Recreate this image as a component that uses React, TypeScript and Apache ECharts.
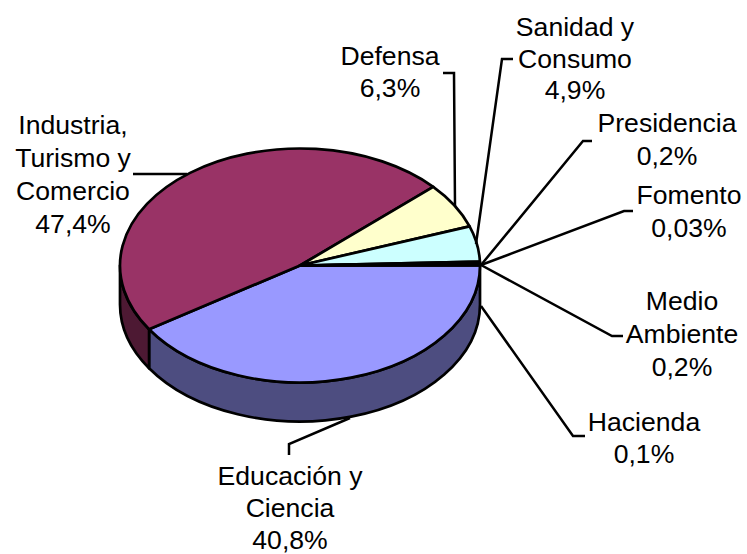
import React, { useEffect, useRef } from "react";
import * as echarts from "echarts";

const categories = ["Educación y Ciencia", "Industria, Turismo y Comercio", "Defensa", "Sanidad y Consumo", "Presidencia", "Fomento", "Medio Ambiente", "Hacienda"];
const shares = [40.8, 47.4, 6.3, 4.9, 0.2, 0.03, 0.2, 0.1];
const shareLabels = ["40,8%", "47,4%", "6,3%", "4,9%", "0,2%", "0,03%", "0,2%", "0,1%"];
const topColors = ["#9999FF", "#993366", "#FFFFCC", "#CCFFFF", "#660066", "#FF8080", "#0066CC", "#CCCCFF"];
const wallColors = ["#4D4D80", "#4D1933", "#808066", "#668080", "#330033", "#804040", "#003366", "#666680"];

const CX = 300, CY = 265.5, RX = 180, RY = 117, DEPTH = 39;
const FONT = "'Liberation Sans', Arial, sans-serif";
const FS = 26.6;

const total = shares.reduce((a, b) => a + b, 0);
const starts: number[] = [];
shares.reduce((acc, v, i) => { starts[i] = acc; return acc + v; }, 0);
const toAngle = (v: number) => (v / total) * Math.PI * 2;
const px = (a: number) => CX + RX * Math.cos(a);
const py = (a: number) => CY + RY * Math.sin(a);

function renderTop(_p: any, api: any) {
  const i = api.value(1);
  const a0 = toAngle(starts[i]);
  const a1 = a0 + toAngle(api.value(0));
  const large = a1 - a0 > Math.PI ? 1 : 0;
  return {
    type: "path",
    shape: { pathData: `M${CX} ${CY}L${px(a0)} ${py(a0)}A${RX} ${RY} 0 ${large} 1 ${px(a1)} ${py(a1)}Z` },
    style: { fill: topColors[i], stroke: "#000", lineWidth: 2.7, lineJoin: "round" },
  };
}

function renderWall(_p: any, api: any) {
  const i = api.value(1);
  const a0 = toAngle(starts[i]);
  const a1 = Math.min(a0 + toAngle(api.value(0)), Math.PI);
  if (a0 >= Math.PI) return { type: "group", children: [] };
  return {
    type: "path",
    shape: {
      pathData: `M${px(a0)} ${py(a0)}A${RX} ${RY} 0 0 1 ${px(a1)} ${py(a1)}L${px(a1)} ${py(a1) + DEPTH}A${RX} ${RY} 0 0 0 ${px(a0)} ${py(a0) + DEPTH}Z`,
    },
    style: { fill: wallColors[i], stroke: "#000", lineWidth: 2.7, lineJoin: "round" },
  };
}

// Category label broken over lines, as the reference sets them, then the share.
const labelLines: string[][] = [
  ["Educación y", "Ciencia"],
  ["Industria,", "Turismo y", "Comercio"],
  ["Defensa"],
  ["Sanidad y", "Consumo"],
  ["Presidencia"],
  ["Fomento"],
  ["Medio", "Ambiente"],
  ["Hacienda"],
];
const labelAnchors = [
  [290, 476], [73, 125], [390, 56], [575, 27], [667, 123], [689, 195], [682, 301], [644, 422],
];
const labelGaps = [32, 33, 32, 31.5, 33, 33, 33, 31.5];
const leaders = [
  [[350, 418], [289, 444], [289, 455]],
  [[187, 174], [133, 174]],
  [[455, 206], [454, 73], [443, 73]],
  [[476, 244], [502, 59], [513, 59]],
  [[481, 265], [583, 141], [592, 141]],
  [[481, 265], [624, 211], [633, 211]],
  [[481, 265], [612, 336], [623, 336]],
  [[481, 306], [573, 436], [585, 436]],
];

function graphics() {
  const els: any[] = [];
  leaders.forEach((points) => {
    els.push({ type: "polyline", z: 10, shape: { points }, style: { fill: "none", stroke: "#000", lineWidth: 2.5 } });
  });
  labelLines.forEach((lines, i) => {
    [...lines, shareLabels[i]].forEach((t, k) => {
      els.push({
        type: "text", z: 11,
        x: labelAnchors[i][0], y: labelAnchors[i][1] + k * labelGaps[i],
        style: { text: t, font: `${FS}px ${FONT}`, fill: "#000", textAlign: "center", textVerticalAlign: "middle" },
      });
    });
  });
  return els;
}

export default function App() {
  const ref = useRef<HTMLDivElement>(null);
  useEffect(() => {
    const chart = echarts.init(ref.current!, null, { renderer: "svg" });
    const data = shares.map((v, i) => ({ name: categories[i], value: [v, i] }));
    chart.setOption({
      animation: false,
      backgroundColor: "#fff",
      xAxis: { show: false, type: "value" },
      yAxis: { show: false, type: "value" },
      grid: { show: false },
      series: [
        { type: "custom", coordinateSystem: "none", renderItem: renderWall, data, z: 1, silent: true },
        { type: "custom", coordinateSystem: "none", renderItem: renderTop, data, z: 2, silent: true },
      ],
      graphic: graphics(),
    });
    return () => chart.dispose();
  }, []);
  return <div ref={ref} style={{ position: "fixed", left: 0, top: 0, width: 747, height: 554 }} />;
}
